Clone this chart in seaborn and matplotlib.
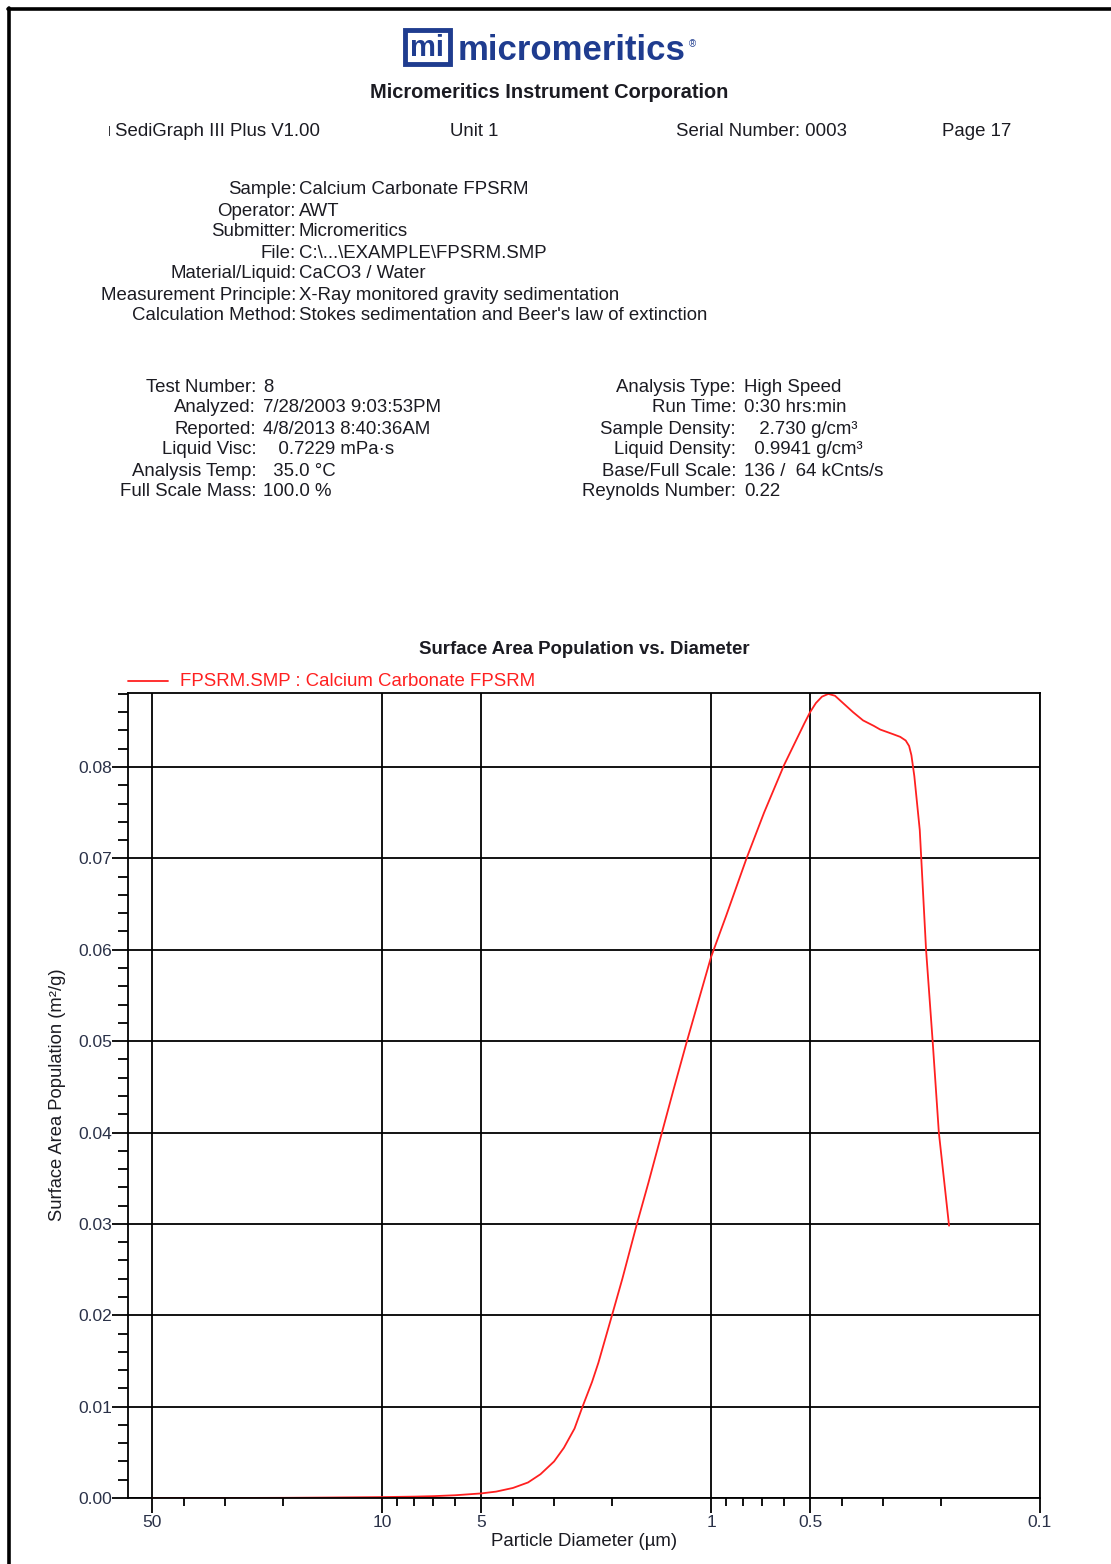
import matplotlib
matplotlib.use("Agg")
import matplotlib.pyplot as plt
import seaborn as sns
import pandas as pd
from matplotlib.lines import Line2D
from matplotlib.patches import Rectangle
from matplotlib.ticker import FixedLocator, FixedFormatter, MultipleLocator, FormatStrFormatter, NullFormatter

# ---------------- data ----------------
diameter_um = [50, 30, 20, 15, 10, 8, 7, 6, 5, 4.5, 4, 3.6, 3.3, 3.0, 2.8, 2.6, 2.47,
               2.3, 2.2, 2.0, 1.86, 1.68, 1.55, 1.41, 1.3, 1.19, 1.09, 1.0, 0.9, 0.78,
               0.69, 0.6, 0.55, 0.52, 0.5, 0.48, 0.46, 0.44, 0.42, 0.397, 0.37, 0.345,
               0.32, 0.306, 0.28, 0.266, 0.256, 0.25, 0.246, 0.241, 0.232, 0.222, 0.212,
               0.203, 0.189]
surface_area_pop = [0.0000, 0.0000, 0.00002, 0.00005, 0.0001, 0.00015, 0.0002, 0.0003,
                    0.0005, 0.0007, 0.0011, 0.0017, 0.0026, 0.0040, 0.0055, 0.0076, 0.0098,
                    0.0127, 0.0148, 0.0200, 0.0240, 0.0300, 0.0345, 0.0400, 0.0447, 0.0497,
                    0.0545, 0.0592, 0.0637, 0.0700, 0.0750, 0.0802, 0.0830, 0.0848, 0.0860,
                    0.0870, 0.0877, 0.0880, 0.0878, 0.0870, 0.0860, 0.0851, 0.0845, 0.0841,
                    0.0836, 0.0833, 0.0829, 0.0823, 0.0813, 0.0790, 0.0731, 0.0600, 0.0500,
                    0.0400, 0.0298]

x_major_ticks = [50, 10, 5, 1, 0.5, 0.1]
x_major_labels = ["50", "10", "5", "1", "0.5", "0.1"]
x_minor_ticks = [40, 30, 20, 9, 8, 7, 6, 4, 3, 2, 0.9, 0.8, 0.7, 0.6, 0.4, 0.3, 0.2]

series_name = "FPSRM.SMP : Calcium Carbonate FPSRM"
chart_title = "Surface Area Population vs. Diameter"
x_label = "Particle Diameter (\u00b5m)"
y_label = "Surface Area Population (m\u00b2/g)"

sample_labels = ["Sample:", "Operator:", "Submitter:", "File:", "Material/Liquid:",
                 "Measurement Principle:", "Calculation Method:"]
sample_values = ["Calcium Carbonate FPSRM", "AWT", "Micromeritics",
                 "C:\\...\\EXAMPLE\\FPSRM.SMP", "CaCO3 / Water",
                 "X-Ray monitored gravity sedimentation",
                 "Stokes sedimentation and Beer's law of extinction"]
left_labels = ["Test Number:", "Analyzed:", "Reported:", "Liquid Visc:", "Analysis Temp:",
               "Full Scale Mass:"]
left_values = ["8", "7/28/2003 9:03:53PM", "4/8/2013 8:40:36AM", "   0.7229 mPa\u00b7s",
               "  35.0 \u00b0C", "100.0 %"]
right_labels = ["Analysis Type:", "Run Time:", "Sample Density:", "Liquid Density:",
                "Base/Full Scale:", "Reynolds Number:"]
right_values = ["High Speed", "0:30 hrs:min", "   2.730 g/cm\u00b3", "  0.9941 g/cm\u00b3",
                "136 /  64 kCnts/s", "0.22"]

# ---------------- style ----------------
sns.set_style("white")
plt.rcParams['font.family'] = ['Liberation Sans', 'DejaVu Sans']
plt.rcParams['mathtext.default'] = 'regular'

W, H = 1111, 1564
fig = plt.figure(figsize=(W / 100, H / 100), dpi=100)
fig.patch.set_facecolor("white")

def fx(px):
    return px / W

def fy(py):
    return 1 - py / H

TXT = "#1b1b22"
FS = 13.4

# page border (top and left)
fig.add_artist(Line2D([fx(8), fx(1111)], [fy(9), fy(9)], color="black", lw=2.6))
fig.add_artist(Line2D([fx(9), fx(9)], [fy(8), fy(1564)], color="black", lw=2.6))

# logo
LOGO = "#1f3c8f"
fig.add_artist(Rectangle((fx(405), fy(64)), fx(45), (64 - 30) / H, transform=fig.transFigure,
                         facecolor="white", edgecolor=LOGO, lw=3.5))
fig.text(fx(427), fy(48), "mi", color=LOGO, fontsize=21, fontweight="bold",
         ha="center", va="center")
fig.text(fx(458), fy(50), "micromeritics", color=LOGO, fontsize=25, fontweight="bold",
         ha="left", va="center")
fig.text(fx(689), fy(44), "\u00ae", color=LOGO, fontsize=7, ha="left", va="center")
fig.text(fx(549), fy(92), "Micromeritics Instrument Corporation", color=TXT, fontsize=14.4,
         fontweight="bold", ha="center", va="center")

# header row
fig.text(fx(108), fy(131), "|", color=TXT, fontsize=8, ha="left", va="center")
for xp, s in [(115, "SediGraph III Plus V1.00"), (450, "Unit 1"),
              (676, "Serial Number: 0003"), (942, "Page 17")]:
    fig.text(fx(xp), fy(131), s, color=TXT, fontsize=FS, ha="left", va="center")

for i, (lab, val) in enumerate(zip(sample_labels, sample_values)):
    yy = fy(190 + 21 * i)
    fig.text(fx(296), yy, lab, color=TXT, fontsize=FS, ha="right", va="center")
    fig.text(fx(299), yy, val, color=TXT, fontsize=FS, ha="left", va="center")

for i, (lab, val) in enumerate(zip(left_labels, left_values)):
    yy = fy(387 + 21 * i)
    fig.text(fx(256), yy, lab, color=TXT, fontsize=FS, ha="right", va="center")
    fig.text(fx(263), yy, val, color=TXT, fontsize=FS, ha="left", va="center")

for i, (lab, val) in enumerate(zip(right_labels, right_values)):
    yy = fy(387 + 21 * i)
    fig.text(fx(736), yy, lab, color=TXT, fontsize=FS, ha="right", va="center")
    fig.text(fx(744), yy, val, color=TXT, fontsize=FS, ha="left", va="center")

# ---------------- chart ----------------
ax = fig.add_axes([fx(128), 1 - 1498 / H, fx(1040) - fx(128), (1498 - 693) / H])
df = pd.DataFrame({"d": diameter_um, "v": surface_area_pop})
sns.lineplot(data=df, x="d", y="v", ax=ax, color="#ff2020", lw=1.3, estimator=None,
             sort=False, legend=False)
ax.set_xscale("log")
ax.set_xlim(59.2, 0.1)
ax.set_ylim(0, 0.0881)

ax.xaxis.set_major_locator(FixedLocator(x_major_ticks))
ax.xaxis.set_major_formatter(FixedFormatter(x_major_labels))
ax.xaxis.set_minor_locator(FixedLocator(x_minor_ticks))
ax.xaxis.set_minor_formatter(NullFormatter())
ax.yaxis.set_major_locator(MultipleLocator(0.01))
ax.yaxis.set_major_formatter(FormatStrFormatter("%.2f"))
ax.yaxis.set_minor_locator(MultipleLocator(0.002))

ax.tick_params(axis="both", which="both", bottom=True, left=True, top=False, right=False)
ax.tick_params(axis="x", which="major", direction="out", length=11, width=1.3,
               color="black", labelsize=12.5, labelcolor="#2a3148", pad=1.5)
ax.tick_params(axis="x", which="minor", direction="out", length=6, width=1.3,
               color="black")
ax.tick_params(axis="y", which="major", direction="out", length=11.5, width=1.3,
               color="black", labelsize=12.5, labelcolor="#2a3148", pad=0)
ax.tick_params(axis="y", which="minor", direction="out", length=7, width=1.3,
               color="black")

ax.grid(True, which="major", color="black", lw=1.3)
for sp in ax.spines.values():
    sp.set_visible(True)
    sp.set_color("black")
    sp.set_linewidth(1.3)
ax.set_xlabel("")
ax.set_ylabel("")

fig.text(fx(584), fy(650), chart_title, color=TXT, fontsize=13.4, fontweight="bold",
         ha="center", va="center")
fig.add_artist(Line2D([fx(128), fx(168)], [fy(681), fy(681)], color="#ff2020", lw=1.3))
fig.text(fx(180), fy(681), series_name, color="#ff2020", fontsize=13.4, ha="left",
         va="center")
fig.text(fx(584), fy(1542), x_label, color=TXT, fontsize=13.4, ha="center", va="center")
fig.text(fx(58), fy(1095), y_label, color=TXT, fontsize=13.2, ha="center", va="center",
         rotation=90)

fig.savefig("out.png", dpi=100, facecolor="white")
